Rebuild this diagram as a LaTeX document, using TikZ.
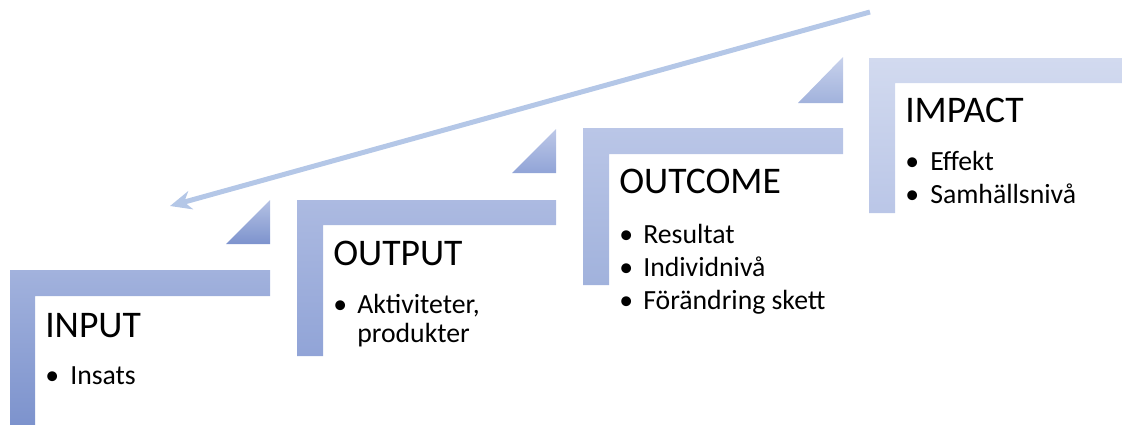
\documentclass[tikz,border=0pt]{standalone}
\usepackage{fontspec}
\setmainfont{Carlito}
\usetikzlibrary{arrows.meta}
\definecolor{arrowc}{HTML}{B4C7E7}
\definecolor{aT}{HTML}{A2B2DD}\definecolor{aB}{HTML}{7D93CD}
\definecolor{bT}{HTML}{ACBAE1}\definecolor{bB}{HTML}{91A4D7}
\definecolor{cT}{HTML}{BAC6E7}\definecolor{cB}{HTML}{A1B2DC}
\definecolor{dT}{HTML}{D2DAEF}\definecolor{dB}{HTML}{BAC6E7}
\tikzset{
  title/.style={anchor=base west,font=\fontsize{28.2}{33}\selectfont,inner sep=0pt},
  item/.style={anchor=base west,font=\fontsize{20.8}{25}\selectfont,inner sep=0pt},
}
\begin{document}
\begin{tikzpicture}[x=0.75pt,y=-0.75pt]
\useasboundingbox (0,0) rectangle (1122,425);
% steps
\shade[top color=aT,bottom color=aB] (10,270) -- (270,270) -- (270,296) -- (35,296) -- (35,425) -- (10,425) -- cycle;
\shade[top color=aT!80!white,bottom color=aB] (226,244) -- (270,200) -- (270,244) -- cycle;
\shade[top color=bT,bottom color=bB] (297,200) -- (556,200) -- (556,225) -- (323,225) -- (323,356) -- (297,356) -- cycle;
\shade[top color=bT!80!white,bottom color=bB] (512,173) -- (556,129) -- (556,173) -- cycle;
\shade[top color=cT,bottom color=cB] (583,128) -- (843,128) -- (843,154) -- (609,154) -- (609,285) -- (583,285) -- cycle;
\shade[top color=cT!80!white,bottom color=cB] (798,103) -- (843,57) -- (843,103) -- cycle;
\shade[top color=dT,bottom color=dB] (869,58) -- (1122,58) -- (1122,83) -- (895,83) -- (895,213) -- (869,213) -- cycle;
% texts
\node[title] (t1) at (45,337) {INPUT};
\node[item] (b1) at (45,384) {•};
\node[item] (i1) at (70,384) {Insats};
\node[title] (t2) at (333,265) {OUTPUT};
\node[item] (b2) at (333,313) {•};
\node[item] (i2a) at (357,313) {Aktiviteter,};
\node[item] (i2b) at (357,342) {produkter};
\node[title] (t3) at (619,193) {OUTCOME};
\node[item] (b3a) at (619,243) {•};
\node[item] (i3a) at (643,243) {Resultat};
\node[item] (b3b) at (619,276) {•};
\node[item] (i3b) at (643,276) {Individnivå};
\node[item] (b3c) at (619,309) {•};
\node[item] (i3c) at (643,309) {Förändring skett};
\node[title] (t4) at (905,122) {IMPACT};
\node[item] (b4a) at (905,170) {•};
\node[item] (i4a) at (930,170) {Effekt};
\node[item] (b4b) at (905,203) {•};
\node[item] (i4b) at (930,203) {Samhällsnivå};
% arrow
\coordinate (as) at (870,12);
\coordinate (ae) at (170,206);
\draw[arrowc,line width=3.75pt,-{Stealth[length=16pt,width=14pt,inset=5pt]}] (as) -- (ae);
\end{tikzpicture}
\end{document}
